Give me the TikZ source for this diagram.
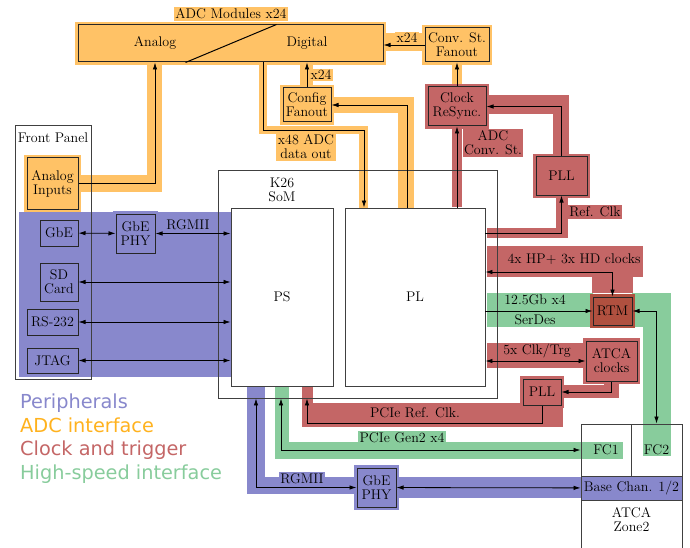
\documentclass[tikz,border=0pt]{standalone}
\usepackage{fontspec}
\newfontfamily\legendfont{DejaVu Sans}
\usetikzlibrary{arrows.meta,calc}
\definecolor{perblue}{HTML}{8888CC}
\definecolor{adcorange}{HTML}{FFC266}
\definecolor{clkred}{HTML}{C46666}
\definecolor{hsgreen}{HTML}{88CC9C}
\definecolor{rtmred}{HTML}{B0503F}
\definecolor{adctext}{HTML}{FFB21E}
\pgfdeclarelayer{background}
\pgfsetlayers{background,main}

\begin{document}
\begin{tikzpicture}[x=1pt, y=-1pt,
  font=\fontsize{14}{14}\selectfont,
  box/.style={draw=black!85, line width=1pt, fill=#1, inner sep=0pt, align=center, preaction={draw=#1, line width=6pt}},
  unit/.style={draw=black!75, line width=0.9pt, fill=white, inner sep=0pt, align=center},
  tag/.style={fill=#1, inner sep=1.5pt, align=center},
  arrow/.style={-{Latex[length=7pt,width=4.5pt]}, line width=0.8pt},
  biarrow/.style={{Latex[length=7pt,width=4.5pt]}-{Latex[length=7pt,width=4.5pt]}, line width=0.8pt},
  legend/.style={anchor=base west, inner sep=0pt, text=#1, font=\legendfont\fontsize{19.3}{21}\selectfont}
]
  \useasboundingbox (0,0) rectangle (690,548);

  % ADC side
  \node[box=adcorange, minimum width=305pt, minimum height=37pt] (adc) at (230.5,43.5) {};
  \node (ana) at (155,43) {Analog};
  \node (dig) at (307,43) {Digital};
  \draw[line width=1pt] ([xshift=199pt]adc.north west) -- ([xshift=108pt]adc.south west);
  \node[tag=adcorange] (adclbl) at (231,14) {ADC Modules x24};
  \node[box=adcorange, minimum width=64pt, minimum height=34pt] (convst) at (457,45) {Conv. St.\\Fanout};
  \node[box=adcorange, minimum width=48pt, minimum height=34pt] (cfg) at (307,105) {Config\\Fanout};
  \node[box=clkred, minimum width=58pt, minimum height=39pt] (resync) at (457,106.5) {Clock\\ReSync.};
  \node[box=clkred, minimum width=51pt, minimum height=38pt] (pllA) at (561.5,176) {PLL};

  % front panel and peripherals
  \node[draw=black!75, line width=0.9pt, minimum width=76pt, minimum height=254pt] (fp) at (53,252) {};
  \node (fplbl) at (53,138) {Front Panel};
  \node[box=adcorange, minimum width=51pt, minimum height=51pt] (ain) at (52.5,183.5) {Analog\\Inputs};
  \node[box=perblue, minimum width=38pt, minimum height=26pt] (gbe) at (59,233) {GbE};
  \node[box=perblue, minimum width=39pt, minimum height=39pt] (phyA) at (135.5,233.5) {GbE\\PHY};
  \node[box=perblue, minimum width=38pt, minimum height=38pt] (sd) at (59,282) {SD\\Card};
  \node[box=perblue, minimum width=51pt, minimum height=26pt] (rs) at (52.5,322) {RS-232};
  \node[box=perblue, minimum width=51pt, minimum height=25pt] (jtag) at (52.5,360.5) {JTAG};

  % SoM
  \node[unit, fill=none, minimum width=279pt, minimum height=228pt] (som) at (357.5,284) {};
  \node[align=center] (somlbl) at (282,190) {K26\\SoM};
  \node[unit, minimum width=102pt, minimum height=178pt] (ps) at (282,297) {PS};
  \node[unit, minimum width=140pt, minimum height=178pt] (pl) at (415,297) {PL};

  % right side
  \node[box=rtmred, minimum width=39pt, minimum height=28pt] (rtm) at (612.5,311) {RTM};
  \node[box=clkred, minimum width=51pt, minimum height=40pt] (atcaclk) at (611.5,361) {ATCA\\clocks};
  \node[box=clkred, minimum width=38pt, minimum height=26pt] (pllB) at (542,392) {PLL};
  \node[box=perblue, minimum width=39pt, minimum height=39pt] (phyB) at (376.5,487.5) {GbE\\PHY};

  % ATCA zone 2
  \node[unit, fill=none, minimum width=50pt, minimum height=52pt] (fc1) at (606,450) {FC1};
  \node[unit, fill=none, minimum width=51pt, minimum height=52pt] (fc2) at (656.5,450) {FC2};
  \node[unit, fill=perblue, minimum width=101pt, minimum height=24pt] (base) at (631.5,488) {Base Chan. 1/2};
  \node[unit, fill=none, minimum width=101pt, minimum height=50pt] (zone) at (631.5,525) {};
  \node[align=center] (zonelbl) at (631.5,520) {ATCA\\Zone2};

  % labels
  \node[tag=adcorange] (x24a) at (407,38) {x24};
  \node[tag=adcorange] (x24b) at (321,75) {x24};
  \node[tag=adcorange] (x48) at (306,147) {x48 ADC\\data out};
  \node[tag=clkred] (convlbl) at (493,143) {ADC\\Conv. St.};
  \node[tag=clkred] (reflbl) at (595,212) {Ref. Clk};
  \node (hplbl) at (574,259) {4x HP+ 3x HD clocks};
  \node (serlbl) at (535,300) {12.5Gb x4};
  \node (serlblb) at (535,320) {SerDes};
  \node (trglbl) at (537,351) {5x Clk/Trg};
  \node (pcieref) at (415,413) {PCIe Ref. Clk.};
  \node[tag=hsgreen] (pciegen) at (402,438) {PCIe Gen2 x4};
  \node[tag=perblue] (rgmiib) at (302,479) {RGMII};
  \node (rgmiia) at (188,225) {RGMII};

  % legend
  \node[legend=perblue] (lgper) at (20,408) {Peripherals};
  \node[legend=adctext] (lgadc) at (20,432) {ADC interface};
  \node[legend=clkred] (lgclk) at (20,455) {Clock and trigger};
  \node[legend=hsgreen] (lghs) at (20,479) {High-speed interface};

  % bends
  \coordinate (dbend) at (364,130);
  \coordinate (cbend) at (407,104);
  \coordinate (rbend) at (307,423);
  \coordinate (gbend) at (256,488);

  % connectors
  \draw[arrow] (ain) -| (ana |- adc.south);
  \draw[arrow] (adc.south -| 263,0) |- (dbend) -- (pl.north -| dbend);
  \draw[arrow] (cfg) -- (cfg |- adc.south);
  \draw[arrow] (pl.north -| cbend) |- (cfg);
  \draw[arrow] (convst) -- (convst -| adc.east);
  \draw[arrow] (resync) -- (convst);
  \draw[arrow] (pl.north -| resync) -- (resync);
  \draw[arrow] (pllA) |- (resync);
  \draw[arrow] (pl.east |- 0,233) -| (pllA);
  \draw[biarrow] (pl.east |- 0,272) -| (rtm);
  \draw[arrow] (pl.east |- rtm) -- (rtm);
  \draw[biarrow] (rtm) -| (fc2);
  \draw[biarrow] (pl.east |- atcaclk) -- (atcaclk);
  \draw[arrow] (atcaclk) |- (pllB);
  \draw[arrow] (pllB) |- (rbend) -- (som.south -| rbend);
  \draw[biarrow] (fc1) -| (som.south -| 281,0);
  \draw[biarrow] (som.south -| gbend) |- (phyB);
  \draw[biarrow] (phyB) -- (base);
  \draw[biarrow] (gbe) -- (phyA);
  \draw[biarrow] (phyA) -- (ps.west |- phyA);
  \draw[biarrow] (sd) -- (ps.west |- sd);
  \draw[biarrow] (rs) -- (ps.west |- rs);
  \draw[biarrow] (jtag) -- (ps.west |- jtag);

  % coloured bands
  \begin{pgfonlayer}{background}
    \fill[adcorange] (383,33) rectangle (425,51);
    \fill[adcorange] (452,62) rectangle (462,87);
    \fill[adcorange] (78,175) rectangle (162,192);
    \fill[adcorange] (147,63) rectangle (162,192);
    \fill[adcorange] (259,63) rectangle (267,134);
    \fill[adcorange] (259,126) rectangle (368,134);
    \fill[adcorange] (359,126) rectangle (368,208);
    \fill[adcorange] (300,63) rectangle (313,88);
    \fill[adcorange] (331,97) rectangle (414,113);
    \fill[adcorange] (398,97) rectangle (414,208);

    \fill[clkred] (452,126) rectangle (462,207);
    \fill[clkred] (486,95) rectangle (569,114);
    \fill[clkred] (553,95) rectangle (569,157);
    \fill[clkred] (556,195) rectangle (568,237);
    \fill[clkred] (487,228) rectangle (568,238);
    \fill[clkred] (487,246) rectangle (643,277);
    \fill[clkred] (592,277) rectangle (633,293);
    \fill[clkred] (487,343) rectangle (586,368);
    \fill[clkred] (604,381) rectangle (619,398);
    \fill[clkred] (561,385) rectangle (619,398);
    \fill[clkred] (302,403) rectangle (563,427);
    \fill[clkred] (302,387) rectangle (313,427);

    \fill[hsgreen] (487,293) rectangle (593,327);
    \fill[hsgreen] (632,293) rectangle (670,327);
    \fill[hsgreen] (643,293) rectangle (671,456);
    \fill[hsgreen] (275,387) rectangle (289,459);
    \fill[hsgreen] (275,442) rectangle (623,459);

    \fill[perblue] (19,212) rectangle (231,377);
    \fill[perblue] (247,387) rectangle (265,494);
    \fill[perblue] (247,477) rectangle (357,494);
    \fill[perblue] (396,477) rectangle (581,498);
  \end{pgfonlayer}
\end{tikzpicture}
\end{document}
